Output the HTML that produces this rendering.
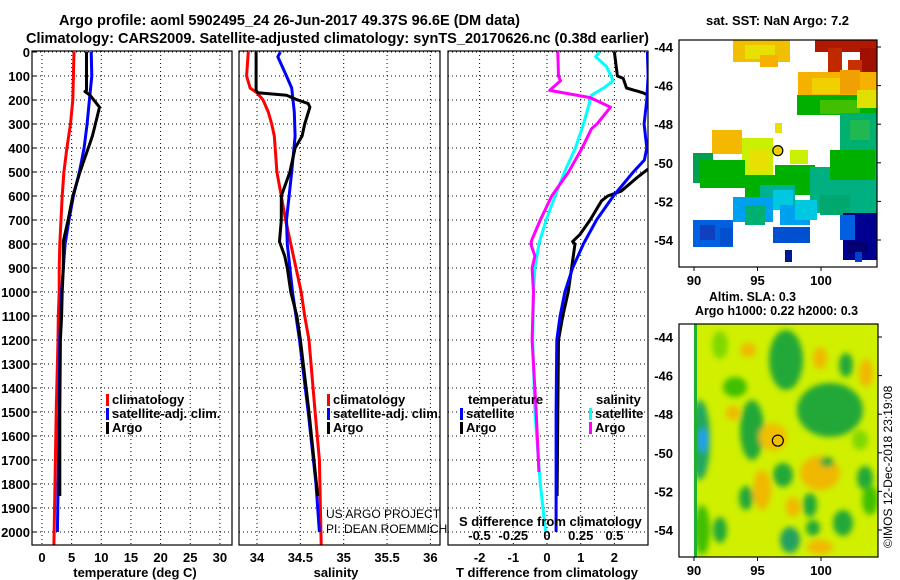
<!DOCTYPE html>
<html><head><meta charset="utf-8"><style>
html,body{margin:0;padding:0;background:#fff;}
svg{display:block;font-family:"Liberation Sans",sans-serif;}
.b{font-weight:bold;font-size:13px;fill:#000;}
.t{font-weight:bold;font-size:15px;fill:#000;}
</style></head><body>
<svg id="c" width="900" height="580" viewBox="0 0 900 580" xmlns="http://www.w3.org/2000/svg">
<defs>
<clipPath id="cp1"><rect x="32" y="51" width="200" height="494"/></clipPath>
<clipPath id="cp2"><rect x="239" y="51" width="201" height="494"/></clipPath>
<clipPath id="cp3"><rect x="448" y="51" width="200" height="494"/></clipPath>
<clipPath id="cpm1"><rect x="679" y="40" width="198" height="227"/></clipPath>
<clipPath id="cpm2"><rect x="694" y="324" width="184" height="233"/></clipPath>
<filter id="bl" x="-20%" y="-20%" width="140%" height="140%"><feGaussianBlur stdDeviation="3"/></filter>
</defs>
<text class="t" x="59" y="25" textLength="461" lengthAdjust="spacingAndGlyphs">Argo profile: aoml 5902495_24 26-Jun-2017 49.37S 96.6E (DM data)</text>
<text class="t" x="26" y="43" textLength="623" lengthAdjust="spacingAndGlyphs">Climatology: CARS2009. Satellite-adjusted climatology: synTS_20170626.nc (0.38d earlier)</text>
<g id="grid"></g>
<g id="series"></g>
<g id="frames"></g>
<g id="labels"></g>
<g id="maps"></g>
</svg>
<script>
// depth axis
const depthTicks = [0,100,200,300,400,500,600,700,800,900,1000,1100,1200,1300,1400,1500,1600,1700,1800,1900,2000];
const tempTicks = [0,5,10,15,20,25,30];
const salTicks = [34,34.5,35,35.5,36];
const salTickLabels = ['34','34.5','35','35.5','36'];
const dtTicks = [-2,-1,0,1,2];
const dsTicks = [-0.5,-0.25,0,0.25,0.5];
const dsTickLabels = ['-0.5','-0.25','0','0.25','0.5'];

// temperature panel
const tClimDepth = [0,200,300,400,500,600,700,800,900,1000,1100,1200,1500,1800,2054];
const tClim = [5.4,5.2,4.8,4.2,3.7,3.4,3.2,3.0,2.9,2.9,2.75,2.7,2.4,2.2,2.0];
const tSatDepth = [0,100,200,300,400,500,600,700,800,900,1000,1100,1200,1500,2000];
const tSat = [8.3,8.4,8.0,7.6,7.1,6.3,5.3,4.55,3.9,3.6,3.3,3.15,3.0,2.9,2.6];
const tArgoDepth = [0,160,165,180,230,300,350,400,450,500,600,700,790,900,1000,1100,1200,1500,1850];
const tArgo = [7.5,7.5,7.25,8.1,9.7,9.0,8.5,7.8,7.1,6.4,5.2,4.4,3.6,3.6,3.4,3.3,3.1,3.0,3.0];

// salinity panel
const sClimDepth = [0,100,150,170,200,250,300,350,400,500,600,700,800,900,1000,1100,1200,1500,1700,2054];
const sClim = [33.9,33.88,33.92,34.0,34.07,34.13,34.17,34.2,34.21,34.23,34.28,34.33,34.39,34.45,34.51,34.55,34.6,34.67,34.72,34.74];
const sSatDepth = [0,20,100,150,250,350,500,700,800,1000,1200,1500,1800,2000];
const sSat = [34.27,34.24,34.34,34.4,34.43,34.44,34.4,34.34,34.35,34.41,34.49,34.59,34.68,34.72];
const sArgoDepth = [0,160,170,180,200,215,230,300,350,400,500,600,700,790,850,900,1000,1100,1200,1500,1850];
const sArgo = [33.99,33.99,34.01,34.34,34.47,34.59,34.61,34.55,34.52,34.44,34.38,34.28,34.28,34.26,34.32,34.35,34.39,34.46,34.5,34.6,34.7];

// difference panel
const dtSatDepth = [0,100,200,300,400,450,500,600,700,800,900,1000,1100,1200,1500,2000];
const dtSat = [2.98,3.0,2.96,2.88,2.96,2.89,2.56,1.97,1.47,1.08,0.76,0.53,0.39,0.29,0.27,0.27];
const dtArgoDepth = [0,100,110,150,170,200,480,490,520,580,600,620,700,760,790,800,850,900,1000,1100,1200,1500,1850];
const dtArgo = [2.0,2.09,2.26,2.36,2.85,3.3,3.3,2.98,2.7,2.2,1.8,1.62,1.28,0.98,0.76,0.83,0.78,0.73,0.63,0.47,0.34,0.32,0.3];
const dsSatDepth = [0,20,60,120,150,180,220,300,400,500,600,700,800,900,1000,1200,1500,1800,2000];
const dsSat = [0.39,0.36,0.44,0.49,0.42,0.33,0.31,0.27,0.21,0.13,0.06,-0.007,-0.06,-0.09,-0.1,-0.106,-0.09,-0.05,-0.01];
const dsArgoDepth = [0,100,120,160,190,230,300,320,400,500,600,700,780,800,850,900,1000,1200,1500,1750];
const dsArgo = [0.08,0.085,0.1,0.02,0.32,0.47,0.37,0.33,0.26,0.16,0.035,-0.05,-0.11,-0.12,-0.09,-0.11,-0.1,-0.11,-0.08,-0.06];

const NS='http://www.w3.org/2000/svg';
const yD = d => 52 + 0.24*d;
const xT = t => 42 + 5.93*t;
const xS = s => 257 + 86.7*(s-34);
const xDT = v => 547 + 33.7*v;
const xDS = v => 547 + 135*v;
function mk(tag, attrs, parent){const e=document.createElementNS(NS,tag);for(const k in attrs)e.setAttribute(k,attrs[k]);parent.appendChild(e);return e;}
const G=document.getElementById('grid'),S=document.getElementById('series'),F=document.getElementById('frames'),L=document.getElementById('labels'),M=document.getElementById('maps');

const panels=[{x0:32,x1:232,ticks:tempTicks,fx:xT,labels:tempTicks.map(String),title:'temperature (deg C)',tx:135,name:'temperature'},
{x0:239,x1:440,ticks:salTicks,fx:xS,labels:salTickLabels,title:'salinity',tx:336,name:'salinity'},
{x0:448,x1:648,ticks:dtTicks,fx:xDT,labels:dtTicks.map(String),title:'T difference from climatology',tx:547,name:'difference'}];
panels.forEach(p=>{
  depthTicks.forEach(d=>{const l=mk('line',{x1:p.x0,x2:p.x1,y1:yD(d),y2:yD(d),stroke:'#000','stroke-width':1,'stroke-dasharray':'1,3'},G);
    
    });
  p.ticks.forEach((v,i)=>{const x=p.fx(v);const l=mk('line',{x1:x,x2:x,y1:51,y2:545,stroke:'#000','stroke-width':1,'stroke-dasharray':'1,3'},G);
    
    
    const t=mk('text',{x:x,y:562,'text-anchor':'middle','class':'b'},L);t.textContent=p.labels[i];
    
    });
  const r=mk('rect',{x:p.x0,y:51,width:p.x1-p.x0,height:494,fill:'none',stroke:'#000','stroke-width':1.2},F);
  
  
  const tt=mk('text',{x:p.tx,y:577,'text-anchor':'middle','class':'b'},L);tt.textContent=p.title;
  
  
});
depthTicks.forEach(d=>{const t=mk('text',{x:30,y:yD(d)+5,'text-anchor':'end','class':'b'},L);t.textContent=String(d);
  
  
  const k=mk('line',{x1:32,x2:36,y1:yD(d),y2:yD(d),stroke:'#000'},F);
  
  });
dsTicks.forEach((v,i)=>{const t=mk('text',{x:xDS(v),y:540,'text-anchor':'middle','class':'b'},L);t.textContent=dsTickLabels[i];
  
  });

function line(depths, vals, fx, color, clip, name){
  const pts=depths.map((d,i)=>fx(vals[i]).toFixed(1)+','+yD(d).toFixed(1)).join(' ');
  const e=mk('polyline',{points:pts,fill:'none',stroke:color,'stroke-width':3,'clip-path':'url(#'+clip+')','stroke-linejoin':'round'},S);
  
  
}
line(tClimDepth,tClim,xT,'#ff0000','cp1','temp-climatology-line');
line(tSatDepth,tSat,xT,'#0000ff','cp1','temp-satellite-line');
line(tArgoDepth,tArgo,xT,'#000','cp1','temp-argo-line');
line(sClimDepth,sClim,xS,'#ff0000','cp2','sal-climatology-line');
line(sSatDepth,sSat,xS,'#0000ff','cp2','sal-satellite-line');
line(sArgoDepth,sArgo,xS,'#000','cp2','sal-argo-line');
line(dsSatDepth,dsSat,xDS,'#00ffff','cp3','s-diff-satellite-line');
line(dsArgoDepth,dsArgo,xDS,'#ff00ff','cp3','s-diff-argo-line');
line(dtArgoDepth,dtArgo,xDT,'#000','cp3','t-diff-argo-line');
line(dtSatDepth,dtSat,xDT,'#0000ff','cp3','t-diff-satellite-line');

function leg(x,y,color,label,name){
  const r=mk('rect',{x:x,y:y-10,width:3,height:12,fill:color},L);
  
  
  const t=mk('text',{x:x+6,y:y,'class':'b'},L);t.textContent=label;
  
  
}
leg(106,404,'#ff0000','climatology','legend-temp-climatology');
leg(106,418,'#0000ff','satellite-adj. clim.','legend-temp-satellite');
leg(106,432,'#000','Argo','legend-temp-argo');
leg(327,404,'#ff0000','climatology','legend-sal-climatology');
leg(327,418,'#0000ff','satellite-adj. clim.','legend-sal-satellite');
leg(327,432,'#000','Argo','legend-sal-argo');
leg(460,418,'#0000ff','satellite','legend-tdiff-satellite');
leg(460,432,'#000','Argo','legend-tdiff-argo');
leg(589,418,'#00ffff','satellite','legend-sdiff-satellite');
leg(589,432,'#ff00ff','Argo','legend-sdiff-argo');
[['temperature',468,404,'legend-temperature-heading'],['salinity',596,404,'legend-salinity-heading'],['S difference from climatology',459,526,'s-diff-axis-title']].forEach(a=>{
  const t=mk('text',{x:a[1],y:a[2],'class':'b'},L);t.textContent=a[0];
  
  });
[['US ARGO PROJECT',326,518,'project-credit'],['PI: DEAN ROEMMICH',326,533,'pi-credit']].forEach(a=>{
  const t=mk('text',{x:a[1],y:a[2],'font-size':'12',fill:'#000'},L);t.textContent=a[0];
  
  });

// ---- maps ----
const mapLonTicks=[90,95,100];
const mapLatTicks=[-44,-46,-48,-50,-52,-54];
const argoLon=96.6, argoLat=-49.37;
const mLon=v=>694+12.7*(v-90);
const mLat1=v=>47+19.3*(-44-v);
const mLat2=v=>337+19.3*(-44-v);

// SST map patches [x,y,w,h,color]
const sstPatches=[[733,40,57,22,'#f0c000'],[745,45,30,14,'#e8e000'],[760,55,18,12,'#f5b000'],
[815,40,62,12,'#b01800'],[828,48,14,28,'#c02800'],[860,48,17,40,'#a01000'],[848,60,14,14,'#c83000'],
[798,72,79,26,'#f5b000'],[812,78,30,16,'#f0d000'],[840,70,20,24,'#f0a000'],[797,95,80,20,'#00b000'],[820,100,40,14,'#40c000'],[857,90,20,18,'#e0e000'],
[840,113,37,55,'#00b070'],[850,120,20,20,'#20b850'],
[712,130,30,24,'#f5b800'],[742,138,31,40,'#c8f000'],[750,150,20,22,'#e8e000'],[775,123,7,10,'#e8e000'],[790,150,18,14,'#c8f000'],
[693,153,20,30,'#00a050'],[700,160,45,28,'#00b000'],[745,175,30,28,'#00b000'],[775,165,40,30,'#00b000'],[810,167,67,46,'#00b080'],[830,150,45,30,'#00b000'],
[760,185,35,20,'#00b090'],[820,195,30,20,'#00a870'],
[733,197,40,25,'#00a0f0'],[773,190,20,20,'#00c8e0'],[780,205,30,20,'#00a0f0'],[795,200,22,20,'#00c8e0'],[745,205,20,20,'#00b070'],
[693,220,40,27,'#0060e0'],[700,225,15,15,'#1040c0'],[720,228,13,18,'#0050d0'],
[773,227,37,16,'#0050d0'],[785,250,7,12,'#001890'],
[843,213,34,47,'#000090'],[840,215,15,25,'#0060e0'],[848,242,20,12,'#000070'],[855,252,7,10,'#0040d0']];
const gM1=mk('g',{'clip-path':'url(#cpm1)'},M);


sstPatches.forEach(p=>{const r=mk('rect',{x:p[0],y:p[1],width:p[2],height:p[3],fill:p[4]},gM1);
  
  });

// SLA map blobs [cx,cy,rx,ry,color]
const slaBlobs=[[700,440,10,40,'#20a860'],[703,440,5,12,'#20a0f0'],[786,360,17,30,'#20a838'],[830,410,33,27,'#20a838'],[846,365,7,12,'#20a838'],
[752,430,12,30,'#20a838'],[735,387,12,10,'#40c000'],[733,413,7,7,'#f0b800'],[773,437,14,14,'#f0c000'],[820,473,20,17,'#f0b800'],
[827,462,7,5,'#20a838'],[783,475,10,12,'#20a838'],[762,490,9,20,'#f0b800'],[793,507,7,10,'#f0b800'],[746,498,7,12,'#20a838'],
[810,505,7,12,'#20a838'],[865,478,8,12,'#20a838'],[790,540,10,13,'#20a060'],[720,530,7,13,'#20a838'],[813,528,7,8,'#20a838'],
[866,373,7,14,'#f0b800'],[820,358,7,11,'#f0b800'],[748,350,8,7,'#f0b800'],[843,523,10,13,'#20a838'],[820,547,13,7,'#f0b800'],
[702,530,8,25,'#40c000'],[870,500,8,15,'#40c000'],[720,345,8,14,'#80d800'],[860,440,8,10,'#80d800']];
const gM2=mk('g',{'clip-path':'url(#cpm2)'},M);


mk('rect',{x:694,y:324,width:184,height:233,fill:'#d0f000'},gM2);
const gB=mk('g',{filter:'url(#bl)'},gM2);
slaBlobs.forEach(b=>{const e=mk('ellipse',{cx:b[0],cy:b[1],rx:b[2],ry:b[3],fill:b[4]},gB);
  
  });
mk('rect',{x:694,y:324,width:3,height:233,fill:'#20b030'},gM2);

function mapAxes(x0,y0,x1,y1,fy,name){
  const f=mk('rect',{x:x0,y:y0,width:x1-x0,height:y1-y0,fill:'none',stroke:'#000','stroke-width':1.2},M);
  
  
  mapLatTicks.forEach(v=>{const y=fy(v);const t=mk('text',{x:x0-6,y:y+5,'text-anchor':'end','class':'b'},M);t.textContent=String(v);
    
    
    mk('line',{x1:x1,x2:x1+4,y1:y,y2:y,stroke:'#000'},M);});
  mapLonTicks.forEach(v=>{const x=mLon(v);const t=mk('text',{x:x,y:y1+18,'text-anchor':'middle','class':'b'},M);t.textContent=String(v);
    
    
    mk('line',{x1:x,x2:x,y1:y1,y2:y1+4,stroke:'#000'},M);});
}
mapAxes(679,40,877,267,mLat1,'sst-map');
mapAxes(679,324,878,557,mLat2,'sla-map');
const c1=mk('circle',{cx:mLon(argoLon),cy:mLat1(argoLat),r:5,fill:'#f0d000',stroke:'#000','stroke-width':1.2},M);


const c2=mk('circle',{cx:mLon(argoLon),cy:mLat2(argoLat),r:5.5,fill:'none',stroke:'#000','stroke-width':1.2},M);


[['sat. SST: NaN Argo: 7.2',706,25,143,'sst-map-title'],['Altim. SLA: 0.3',709,301,87,'sla-map-title'],['Argo h1000: 0.22 h2000: 0.3',695,315,163,'sla-map-subtitle']].forEach(a=>{
  const t=mk('text',{x:a[1],y:a[2],textLength:a[3],lengthAdjust:'spacingAndGlyphs','class':'b'},M);t.textContent=a[0];
  
  });
const cr=mk('text',{x:892,y:548,transform:'rotate(-90 892 548)','font-size':'12',fill:'#000'},M);cr.textContent='©IMOS 12-Dec-2018 23:19:08';


</script>
</body></html>
